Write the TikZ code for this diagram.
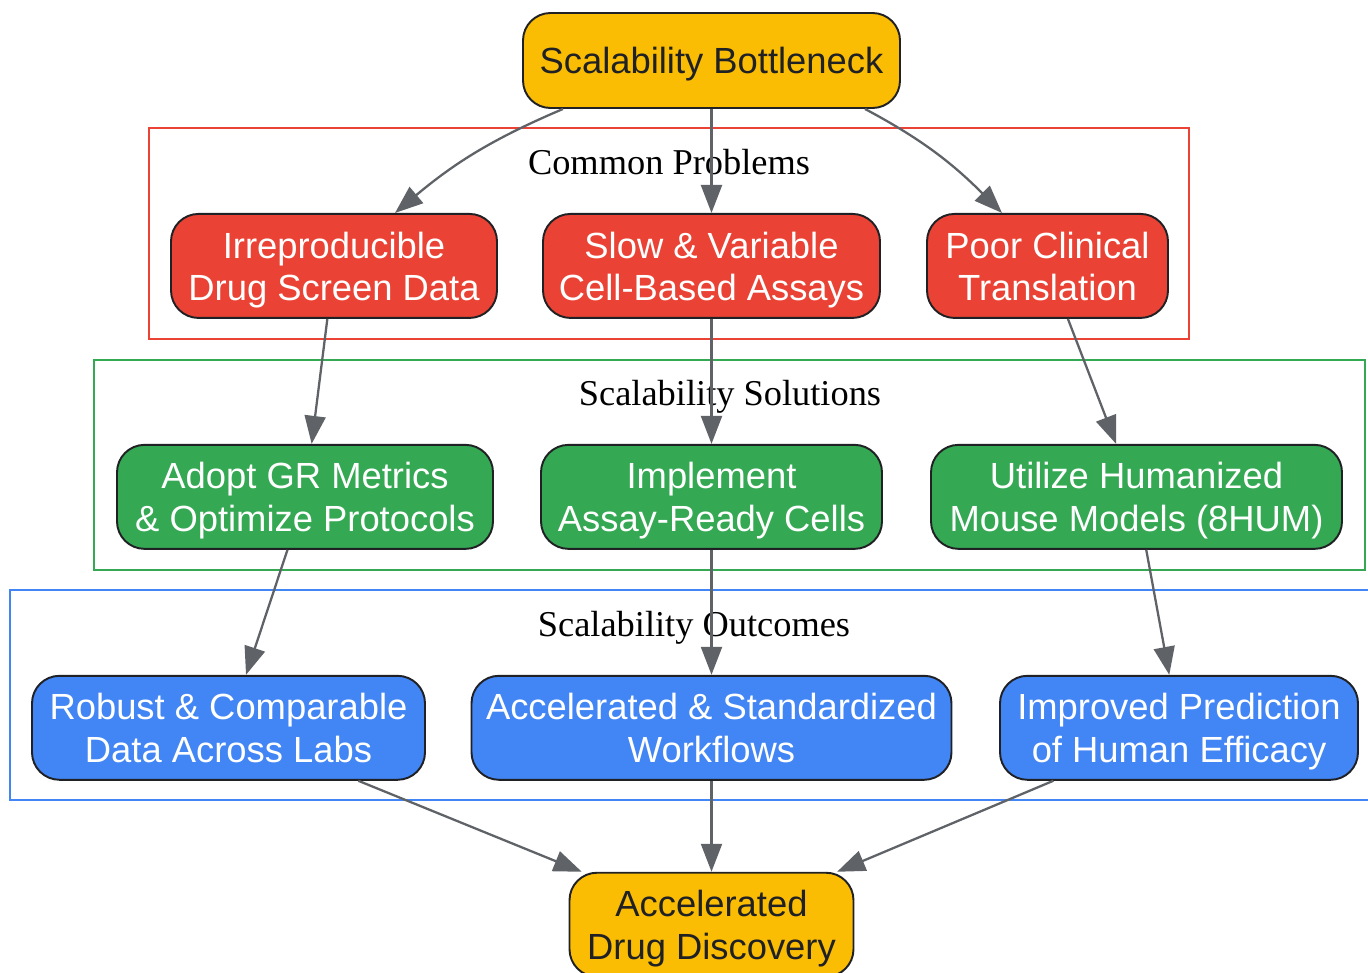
\documentclass[tikz,border=0pt]{standalone}
\usepackage{fontspec}
\setmainfont{Liberation Sans}
\newfontfamily\labelfont{Liberation Serif}
\usetikzlibrary{positioning,arrows.meta}

\definecolor{gyellow}{HTML}{FBBC04}
\definecolor{gred}{HTML}{EA4335}
\definecolor{ggreen}{HTML}{34A853}
\definecolor{gblue}{HTML}{4285F4}
\definecolor{gdark}{HTML}{202124}
\definecolor{ggray}{HTML}{5F6368}

\begin{document}
\begin{tikzpicture}[
    node distance = 2.50cm and 1cm,
    box/.style      = {draw=gdark,
                       line width=1.1pt,
                       rounded corners=0.55cm,
                       minimum height=2.08cm,
                       inner xsep=0.2cm,
                       text depth=0pt,
                       align=center,
                       font=\fontsize{20.7}{24}\selectfont},
    keybox/.style   = {box, fill=gyellow, text=gdark},
    probbox/.style  = {box, fill=gred, text=white},
    solbox/.style   = {box, fill=ggreen, text=white},
    outbox/.style   = {box, fill=gblue, text=white},
    cluster/.style  = {line width=1.2pt},
    clabel/.style   = {font=\labelfont\fontsize{20.7}{24}\selectfont},
    arr/.style      = {draw=ggray,
                       line width=1.3pt,
                       -{Triangle[length=0.56cm,width=0.42cm]}}
]
\useasboundingbox (0,0) rectangle (27.36,-19.46);

% clusters
\draw[cluster, gred]   (2.98,-2.56) rectangle (23.78,-6.78);
\draw[cluster, ggreen] (1.88,-7.20) rectangle (27.30,-11.40);
\draw[cluster, gblue]  (0.20,-11.80) rectangle (27.60,-16.00);
\node (lprob) [clabel] at (13.38,-3.24) {Common Problems};
\node (lsol)  [clabel] at (14.60,-7.94) {Scalability Solutions};
\node (lout)  [clabel] at (13.88,-12.56) {Scalability Outcomes};

\node (bneck) [keybox, minimum width=7.54cm, minimum height=1.9cm] at (14.23,-1.21)
    {Scalability Bottleneck};

% problems
\node (p2) [probbox, minimum width=6.74cm, below=2.08cm of bneck]
    {Slow \& Variable\\Cell-Based Assays};
\node (p1) [probbox, minimum width=6.52cm, below=2.08cm of bneck, xshift=-7.55cm]
    {Irreproducible\\Drug Screen Data};
\node (p3) [probbox, minimum width=4.82cm, below=2.08cm of bneck, xshift=6.72cm]
    {Poor Clinical\\Translation};

% solutions
\node (s2) [solbox, minimum width=6.82cm, below=of p2]
    {Implement\\Assay-Ready Cells};
\node (s1) [solbox, minimum width=7.52cm, below=of p2, xshift=-8.13cm]
    {Adopt GR Metrics\\\& Optimize Protocols};
\node (s3) [solbox, minimum width=8.22cm, below=of p2, xshift=8.5cm]
    {Utilize Humanized\\Mouse Models (8HUM)};

% outcomes
\node (o2) [outbox, minimum width=9.6cm, below=of s2]
    {Accelerated \& Standardized\\Workflows};
\node (o1) [outbox, minimum width=7.86cm, below=of s2, xshift=-9.66cm]
    {Robust \& Comparable\\Data Across Labs};
\node (o3) [outbox, minimum width=7.16cm, below=of s2, xshift=9.35cm]
    {Improved Prediction\\of Human Efficacy};

\node (goal) [keybox, minimum width=5.68cm, below=1.82cm of o2]
    {Accelerated\\Drug Discovery};

\draw[arr] ([xshift=-2.97cm]bneck.south) to[out=-157,in=40] ([xshift=1.22cm]p1.north);
\draw[arr] (bneck) -- (p2);
\draw[arr] ([xshift=3.07cm]bneck.south) to[out=-28,in=135] ([xshift=-0.91cm]p3.north);
\draw[arr] (p1) -- (s1);
\draw[arr] (p2) -- (s2);
\draw[arr] (p3) -- (s3);
\draw[arr] (s1) -- (o1);
\draw[arr] (s2) -- (o2);
\draw[arr] (s3) -- (o3);
\draw[arr] (o1) -- (goal);
\draw[arr] (o2) -- (goal);
\draw[arr] (o3) -- (goal);
\end{tikzpicture}
\end{document}
